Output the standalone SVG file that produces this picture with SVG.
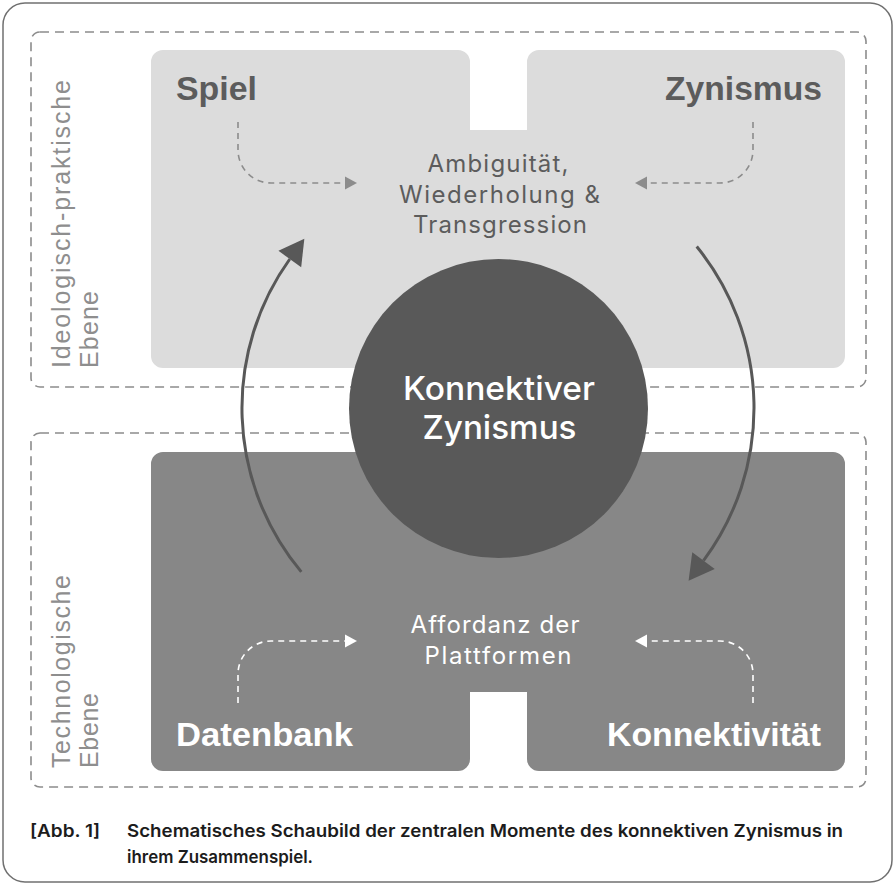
<svg xmlns="http://www.w3.org/2000/svg" width="895" height="885" viewBox="0 0 895 885">
<style>
.frame{fill:#fff;stroke:#707070;stroke-width:1.5}
.layer{fill:none;stroke:#8c8c8c;stroke-width:1.6;stroke-dasharray:9 6}
.lab{font-family:"Liberation Sans",Arial,sans-serif;font-size:25px;fill:#8e8e8e}
.head{font-family:"Liberation Sans",Arial,sans-serif;font-size:33px;font-weight:bold}
.mid{font-family:Inter,"Liberation Sans",sans-serif;font-size:24px;text-anchor:middle}
.core{font-family:Inter,"Liberation Sans",sans-serif;font-size:33px;font-weight:500;fill:#fff;text-anchor:middle}
.cap{font-family:Inter,"Liberation Sans",sans-serif;font-size:17.5px;font-weight:600;fill:#1c1c1c}
.big{fill:none;stroke:#585858;stroke-width:3}
.dg{fill:none;stroke:#8c8c8c;stroke-width:1.6;stroke-dasharray:6 5}
.dw{fill:none;stroke:#fff;stroke-width:1.6;stroke-dasharray:6 5}
</style>
<defs>
<marker id="bigHead" markerUnits="userSpaceOnUse" orient="auto" refX="0" refY="0" markerWidth="30" markerHeight="30" overflow="visible">
<path d="M0,-14 L25,0 L0,14 Z" fill="#585858"/>
</marker>
<marker id="grayHead" markerUnits="userSpaceOnUse" orient="auto" refX="0" refY="0" markerWidth="14" markerHeight="14" overflow="visible">
<path d="M0,-6.5 L12,0 L0,6.5 Z" fill="#8c8c8c"/>
</marker>
<marker id="whiteHead" markerUnits="userSpaceOnUse" orient="auto" refX="0" refY="0" markerWidth="14" markerHeight="14" overflow="visible">
<path d="M0,-6.5 L12,0 L0,6.5 Z" fill="#fff"/>
</marker>
</defs>

<rect class="frame" x="3" y="3" width="889" height="879" rx="22"/>

<g id="layer-ideologisch">
<rect class="layer" x="31" y="32" width="835" height="355" rx="9"/>
<text class="lab" transform="translate(70,368) rotate(-90)" textLength="288" lengthAdjust="spacing">Ideologisch-praktische</text>
<text class="lab" transform="translate(98,368) rotate(-90)" textLength="77" lengthAdjust="spacing">Ebene</text>
</g>
<g id="layer-technologisch">
<rect class="layer" x="31" y="433" width="835" height="354" rx="9"/>
<text class="lab" transform="translate(70,768) rotate(-90)" textLength="193" lengthAdjust="spacing">Technologische</text>
<text class="lab" transform="translate(98,768) rotate(-90)" textLength="75" lengthAdjust="spacing">Ebene</text>
</g>

<g id="upper-field">
<path d="M163,50 H458 A12,12 0 0 1 470,62 V130 H527 V62 A12,12 0 0 1 539,50 H833 A12,12 0 0 1 845,62 V356 A12,12 0 0 1 833,368 H163 A12,12 0 0 1 151,356 V62 A12,12 0 0 1 163,50 Z" fill="#dcdcdc"/>
</g>
<g id="lower-field">
<path d="M163,452 H833 A12,12 0 0 1 845,464 V759 A12,12 0 0 1 833,771 H539 A12,12 0 0 1 527,759 V692 H470 V759 A12,12 0 0 1 458,771 H163 A12,12 0 0 1 151,759 V464 A12,12 0 0 1 163,452 Z" fill="#878787"/>
</g>

<g id="node-spiel"><text class="head" x="176" y="100" fill="#5c5c5c" textLength="81" lengthAdjust="spacingAndGlyphs">Spiel</text></g>
<g id="node-zynismus"><text class="head" x="665" y="100" fill="#5c5c5c" textLength="157" lengthAdjust="spacingAndGlyphs">Zynismus</text></g>
<g id="node-datenbank"><text class="head" x="176" y="746" fill="#fff" textLength="177" lengthAdjust="spacingAndGlyphs">Datenbank</text></g>
<g id="node-konnektivitaet"><text class="head" x="607" y="746" fill="#fff" textLength="214" lengthAdjust="spacingAndGlyphs">Konnektivität</text></g>

<g id="node-ambiguitaet" fill="#5c5c5c">
<text class="mid" x="498" y="172" textLength="141" lengthAdjust="spacing">Ambiguität,</text>
<text class="mid" x="499.5" y="203" textLength="201" lengthAdjust="spacing">Wiederholung &amp;</text>
<text class="mid" x="500" y="233" textLength="174" lengthAdjust="spacing">Transgression</text>
</g>
<g id="node-affordanz" fill="#fff">
<text class="mid" x="495" y="633" textLength="169" lengthAdjust="spacing">Affordanz der</text>
<text class="mid" x="498" y="664" textLength="147" lengthAdjust="spacing">Plattformen</text>
</g>

<g id="connectors">
<path class="big" d="M301.3,571.9 A256,256 0 0 1 289.8,259" marker-end="url(#bigHead)"/>
<path class="big" d="M696.7,246.5 A256,256 0 0 1 703.5,560.6" marker-end="url(#bigHead)"/>
<path class="dg" d="M238,122 V150 A33,33 0 0 0 271,183 H345" marker-end="url(#grayHead)"/>
<path class="dg" d="M753,122 V150 A33,33 0 0 1 720,183 H647" marker-end="url(#grayHead)"/>
<path class="dw" d="M238,703 V674 A33,33 0 0 1 271,641 H345" marker-end="url(#whiteHead)"/>
<path class="dw" d="M753,703 V674 A33,33 0 0 0 720,641 H647" marker-end="url(#whiteHead)"/>
</g>

<g id="node-center">
<circle cx="498.5" cy="408.5" r="149.5" fill="#595959"/>
<text class="core" x="499" y="400" textLength="192" lengthAdjust="spacingAndGlyphs">Konnektiver</text>
<text class="core" x="499.5" y="439" textLength="154" lengthAdjust="spacingAndGlyphs">Zynismus</text>
</g>

<g id="caption">
<text class="cap" x="30" y="837" textLength="70" lengthAdjust="spacingAndGlyphs">[Abb. 1]</text>
<text class="cap" x="127" y="837" textLength="716" lengthAdjust="spacingAndGlyphs">Schematisches Schaubild der zentralen Momente des konnektiven Zynismus in</text>
<text class="cap" x="127" y="863" textLength="186" lengthAdjust="spacingAndGlyphs">ihrem Zusammenspiel.</text>
</g>
</svg>
